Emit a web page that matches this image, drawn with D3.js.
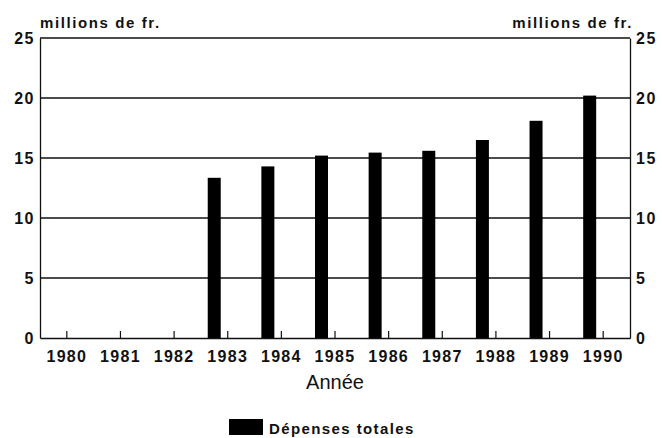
<!DOCTYPE html>
<html>
<head>
<meta charset="utf-8">
<script src="https://cdn.jsdelivr.net/npm/d3@7"></script>
<style>
  body { margin: 0; background: #fff; }
  svg { display: block; font-family: "Liberation Sans", Arial, sans-serif; }
</style>
</head>
<body>
<div id="chart"></div>
<script>
// data
const years = ["1980", "1981", "1982", "1983", "1984", "1985", "1986", "1987", "1988", "1989", "1990"];
const depenses = [null, null, null, 13.35, 14.3, 15.2, 15.45, 15.6, 16.5, 18.1, 20.2];
const yTicks = [0, 5, 10, 15, 20, 25];

const width = 662, height = 438;
const margin = {top: 38, right: 32, bottom: 100, left: 40};
const ink = "#111";

const svg = d3.select("#chart").append("svg")
    .attr("width", width)
    .attr("height", height);

const x = d3.scaleBand().domain(years).range([margin.left, width - margin.right]);
const y = d3.scaleLinear().domain([0, 25]).range([height - margin.bottom, margin.top]);

// horizontal grid lines
svg.append("g")
    .selectAll("line")
    .data(yTicks.filter(d => d > 0))
    .join("line")
    .attr("x1", margin.left)
    .attr("x2", width - margin.right)
    .attr("y1", d => y(d))
    .attr("y2", d => y(d))
    .attr("stroke", ink)
    .attr("stroke-width", 1.3);

// bars, sitting a little left of each tick
const barW = 13;
svg.append("g")
    .selectAll("rect")
    .data(years.map((yr, i) => ({yr, v: depenses[i]})).filter(d => d.v != null))
    .join("rect")
    .attr("x", d => x(d.yr) + x.bandwidth() / 2 - 20)
    .attr("width", barW)
    .attr("y", d => y(d.v))
    .attr("height", d => y(0) - y(d.v))
    .attr("fill", "#000");

// left and right axes (labels only, frame lines drawn separately)
const yAxisL = d3.axisLeft(y).tickValues(yTicks).tickSize(0).tickPadding(5);
const yAxisR = d3.axisRight(y).tickValues(yTicks).tickSize(0).tickPadding(6);

const gl = svg.append("g").attr("transform", `translate(${margin.left},0)`).call(yAxisL);
const gr = svg.append("g").attr("transform", `translate(${width - margin.right},0)`).call(yAxisR);
[gl, gr].forEach(g => {
    g.select(".domain").attr("stroke", ink).attr("stroke-width", 1.3);
    g.selectAll("text")
        .attr("fill", ink)
        .style("font-size", "16px")
        .style("font-weight", "bold")
        .style("letter-spacing", "1.5px");
});

// bottom axis with short ticks pointing up
const xAxis = d3.axisBottom(x).tickSize(-7).tickPadding(13).tickSizeOuter(0);
const gx = svg.append("g").attr("transform", `translate(0,${y(0)})`).call(xAxis);
gx.select(".domain").attr("stroke", ink).attr("stroke-width", 1.3);
gx.selectAll(".tick line").attr("stroke", ink).attr("stroke-width", 1.2);
gx.selectAll("text")
    .attr("fill", ink)
    .style("font-size", "16px")
    .style("font-weight", "bold")
    .style("letter-spacing", "1.3px");

// unit labels
svg.append("text")
    .attr("x", 40).attr("y", 28)
    .attr("fill", ink)
    .style("font-size", "15px").style("font-weight", "bold").style("letter-spacing", "1.6px")
    .text("millions de fr.");
svg.append("text")
    .attr("x", 633).attr("y", 28)
    .attr("text-anchor", "end")
    .attr("fill", ink)
    .style("font-size", "15px").style("font-weight", "bold").style("letter-spacing", "1.6px")
    .text("millions de fr.");

// axis title
svg.append("text")
    .attr("x", 335).attr("y", 389)
    .attr("text-anchor", "middle")
    .attr("fill", ink)
    .style("font-size", "20px")
    .text("Année");

// legend
svg.append("rect")
    .attr("x", 229).attr("y", 419)
    .attr("width", 34).attr("height", 16)
    .attr("fill", "#000");
svg.append("text")
    .attr("x", 269).attr("y", 434)
    .attr("fill", ink)
    .style("font-size", "15px").style("font-weight", "bold").style("letter-spacing", "1.4px")
    .text("Dépenses totales");
</script>
</body>
</html>
